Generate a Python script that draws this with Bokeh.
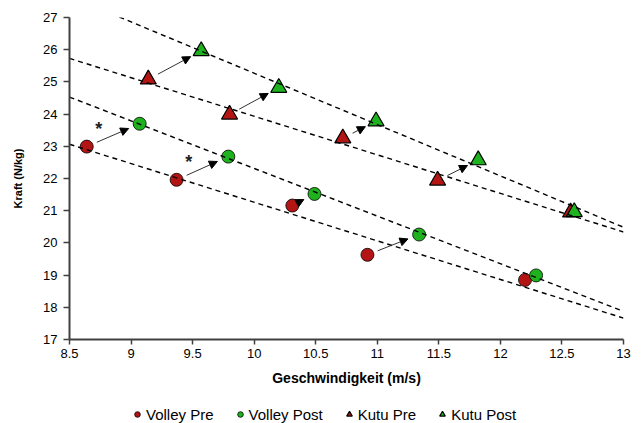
import numpy as np
from bokeh.plotting import figure
from bokeh.layouts import column
from bokeh.models import (Range1d, FixedTicker, Legend, LegendItem, Arrow,
                          NormalHead, ColumnDataSource)
from bokeh.embed import file_html
from bokeh.resources import INLINE
from bokeh.core.properties import value

# ---------------- data ----------------
volley_pre_x = [8.64, 9.37, 10.31, 10.92, 12.20]
volley_pre_y = [22.99, 21.96, 21.16, 19.63, 18.85]
volley_post_x = [9.07, 9.79, 10.49, 11.34, 12.29]
volley_post_y = [23.70, 22.68, 21.52, 20.26, 18.99]
kutu_pre_x = [9.14, 9.80, 10.72, 11.49, 12.57]
kutu_pre_y = [25.08, 23.99, 23.25, 21.94, 20.95]
kutu_post_x = [9.57, 10.20, 10.99, 11.82, 12.60]
kutu_post_y = [25.96, 24.82, 23.78, 22.57, 20.96]
volley_significant = [True, True, False, False, False]

x_ticks = [8.5, 9, 9.5, 10, 10.5, 11, 11.5, 12, 12.5, 13]
x_tick_labels = ["8.5", "9", "9.5", "10", "10.5", "11", "11.5", "12", "12.5", "13"]
y_ticks = [17, 18, 19, 20, 21, 22, 23, 24, 25, 26, 27]

series_names = ["Volley Pre", "Volley Post", "Kutu Pre", "Kutu Post"]

# ---------------- style ----------------
RED = "#B31515"
GREEN = "#1FB21F"
AXIS = "#404040"
FONT = "Liberation Sans"

X0, X1 = 8.5, 13
Y0, Y1 = 17, 27
W, H = 644, 395
LEG_H = 28
ML, MR, MT, MB = 69, 21, 17, 56
FW, FH = W - ML - MR, H - MT - MB
px_x = FW / (X1 - X0)
px_y = FH / (Y1 - Y0)

p = figure(width=W, height=H, x_range=Range1d(X0, X1), y_range=Range1d(Y0, Y1),
           output_backend="svg", toolbar_location=None,
           min_border_left=ML, min_border_right=MR, min_border_top=MT,
           min_border_bottom=MB)
p.xgrid.visible = False
p.ygrid.visible = False
p.outline_line_color = None
p.background_fill_color = "white"
p.border_fill_color = "white"

styles = [dict(marker="circle", fill_color=RED, line_color="black", line_width=0.8),
          dict(marker="circle", fill_color=GREEN, line_color="black", line_width=0.8),
          dict(marker="triangle", fill_color=RED, line_color="black", line_width=1.2),
          dict(marker="triangle", fill_color=GREEN, line_color="black", line_width=1.2)]
plot_sizes = [13, 13, 16, 16]
legend_sizes = [8, 8, 9, 9]
series = [(volley_pre_x, volley_pre_y), (volley_post_x, volley_post_y),
          (kutu_pre_x, kutu_pre_y), (kutu_post_x, kutu_post_y)]

# markers
for (xs, ys), st, sz in zip(series, styles, plot_sizes):
    p.scatter(xs, ys, size=sz, **st)

# regression (trend) lines, drawn over the markers
line_x = np.array([X0, X1])
for xs, ys in series:
    k, d = np.polyfit(xs, ys, 1)
    p.line(line_x, k * line_x + d, line_color="black", line_width=1.4,
           line_dash="5 4")

# arrows pre -> post (pixel-space offsets from marker centres)
arr = dict(xs=[], ys=[], xe=[], ye=[])
star = dict(x=[], y=[])
for group, sig in [((volley_pre_x, volley_pre_y, volley_post_x, volley_post_y), volley_significant),
                   ((kutu_pre_x, kutu_pre_y, kutu_post_x, kutu_post_y), [False] * 5)]:
    ax, ay, bx, by = group
    for i in range(len(ax)):
        dxp = (bx[i] - ax[i]) * px_x
        dyp = (by[i] - ay[i]) * px_y
        dist = np.hypot(dxp, dyp)
        s, e = 11.0, dist - 12.0
        if e - s <= 0.5:
            continue
        ux, uy = dxp / dist, dyp / dist
        arr["xs"].append(ax[i] + ux * s / px_x)
        arr["ys"].append(ay[i] + uy * s / px_y)
        arr["xe"].append(ax[i] + ux * e / px_x)
        arr["ye"].append(ay[i] + uy * e / px_y)
        if sig[i]:
            star["x"].append(ax[i] + ux * s / px_x)
            star["y"].append(ay[i] + uy * s / px_y)

p.add_layout(Arrow(end=NormalHead(size=8, fill_color="black", line_color="black",
                                  line_width=1),
                   x_start="xs", y_start="ys", x_end="xe", y_end="ye",
                   line_color="#333333", line_width=1,
                   source=ColumnDataSource(arr)))

p.text(x=star["x"], y=star["y"], text=["*"] * len(star["x"]),
       text_font=value(FONT), text_font_size="18px", text_color="#222222",
       text_font_style="bold", text_align="center", text_baseline="middle",
       x_offset=2, y_offset=-13)

# axes
for ax in (p.xaxis[0], p.yaxis[0]):
    ax.axis_line_color = AXIS
    ax.axis_line_width = 2
    ax.major_tick_line_color = AXIS
    ax.major_tick_line_width = 1.5
    ax.major_tick_in = 0
    ax.minor_tick_line_color = None
    ax.major_label_text_font = FONT
    ax.major_label_text_font_size = "13px"
    ax.major_label_text_color = "black"
    ax.axis_label_text_font = FONT
    ax.axis_label_text_font_style = "bold"
    ax.axis_label_text_color = "black"

p.xaxis.ticker = FixedTicker(ticks=x_ticks)
p.xaxis.major_label_overrides = {t: l for t, l in zip(x_ticks, x_tick_labels)}
p.xaxis.major_tick_out = 5
p.xaxis.major_label_standoff = 4
p.xaxis.axis_label = "Geschwindigkeit (m/s)"
p.xaxis.axis_label_text_font_size = "14px"
p.xaxis.axis_label_standoff = 9

p.yaxis.ticker = FixedTicker(ticks=y_ticks)
p.yaxis.major_tick_out = 6
p.yaxis.major_label_standoff = 6
p.yaxis.axis_label = "Kraft (N/kg)"
p.yaxis.axis_label_text_font_size = "11px"
p.yaxis.axis_label_standoff = 16

# ---------------- legend strip ----------------
lf = figure(width=W, height=LEG_H, x_range=Range1d(0, 1), y_range=Range1d(0, 1),
            output_backend="svg", toolbar_location=None,
            x_axis_location=None, y_axis_location=None,
            min_border_left=0, min_border_right=0, min_border_top=0,
            min_border_bottom=0)
lf.xgrid.visible = False
lf.ygrid.visible = False
lf.outline_line_color = None
lf.background_fill_color = "white"
lf.border_fill_color = "white"
# legend proxies: same series, lying outside this strip's (0..1) ranges
leg_renderers = [lf.scatter(xs, ys, size=sz, **st)
                 for (xs, ys), st, sz in zip(series, styles, legend_sizes)]
legend = Legend(items=[LegendItem(label=n, renderers=[r]) for n, r in
                       zip(series_names, leg_renderers)],
                orientation="horizontal", location=(61, 0),
                glyph_width=14, glyph_height=14, label_height=18,
                label_standoff=2, spacing=19, padding=0, margin=0,
                border_line_color=None, background_fill_alpha=0,
                label_text_font=FONT, label_text_font_size="15px",
                label_text_color="black")
lf.add_layout(legend)

open("out.html", "w").write(file_html(column(p, lf, spacing=0), INLINE))
